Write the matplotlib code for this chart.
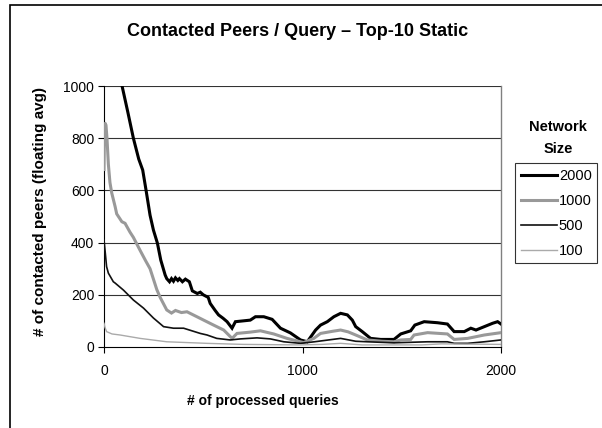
"""Contacted peers per query (floating average) vs processed queries, Top-10 static."""

import matplotlib

matplotlib.use("Agg")
import matplotlib.pyplot as plt
from matplotlib.lines import Line2D

plt.rcParams["font.family"] = ["Liberation Sans", "DejaVu Sans"]

# --- data ------------------------------------------------------------------
x_2000 = [70, 91, 120, 148, 175, 195, 212, 232, 249, 269, 286, 308, 316, 330, 340,
          350, 360, 372, 380, 395, 410, 430, 445, 470, 485, 500, 525, 535, 560, 577,
          600, 620, 645, 662, 700, 737, 763, 805, 847, 889, 939, 990, 1024, 1066,
          1091, 1125, 1158, 1192, 1226, 1251, 1268, 1301, 1343, 1394, 1461, 1495,
          1545, 1566, 1613, 1680, 1730, 1764, 1815, 1848, 1874, 1916, 1958, 1983, 2000]
y_2000 = [1060, 1000, 900, 800, 720, 678, 600, 505, 448, 398, 333, 276, 262, 250, 262,
          252, 265, 255, 262, 250, 260, 250, 215, 205, 210, 200, 190, 167, 140, 123,
          110, 97, 72, 97, 100, 103, 116, 116, 106, 72, 54, 27, 20, 65,
          84, 97, 116, 129, 123, 103, 78, 59, 33, 29, 29, 50,
          62, 84, 97, 93, 88, 59, 59, 72, 65, 78, 91, 97, 88]

x_1000 = [0, 3, 10, 15, 22, 30, 39, 56, 64, 90, 106, 131, 148, 182, 210, 232, 266,
          283, 316, 340, 360, 390, 418, 468, 502, 552, 603, 636, 645, 670, 737, 788,
          855, 922, 990, 1006, 1057, 1091, 1150, 1192, 1230, 1268, 1327, 1400, 1461,
          1495, 1545, 1562, 1630, 1730, 1764, 1832, 1916, 2000]
y_1000 = [680, 860, 850, 800, 700, 630, 590, 538, 510, 480, 474, 440, 420, 370, 330,
          300, 220, 190, 142, 130, 140, 132, 135, 116, 103, 84, 65, 40, 33, 52, 57, 62,
          50, 33, 20, 17, 33, 52, 60, 65, 58, 46, 27, 22, 20,
          27, 29, 46, 55, 50, 29, 33, 46, 55]

x_500 = [0, 5, 13, 22, 47, 56, 98, 148, 199, 249, 300, 350, 401, 485, 519, 568,
         636, 687, 771, 838, 906, 990, 1060, 1192, 1268, 1327, 1461, 1545, 1630,
         1730, 1764, 1832, 1916, 2000]
y_500 = [410, 372, 308, 283, 250, 245, 218, 180, 149, 111, 78, 72, 72, 52, 46, 33,
         27, 31, 35, 31, 20, 14, 20, 33, 22, 20, 16, 18, 20,
         20, 14, 14, 20, 27]

x_100 = [0, 5, 13, 40, 81, 182, 316, 519, 700, 990, 1100, 1192, 1300, 1600, 1700, 2000]
y_100 = [91, 75, 59, 50, 46, 33, 20, 14, 10, 8, 10, 14, 8, 8, 12, 10]

series = [
    ("2000", x_2000, y_2000, "#000000", 2.2),
    ("1000", x_1000, y_1000, "#999999", 2.2),
    ("500", x_500, y_500, "#111111", 1.2),
    ("100", x_100, y_100, "#aaaaaa", 1.0),
]

x_ticks = [0, 1000, 2000]
y_ticks = [0, 200, 400, 600, 800, 1000]

W, H = 602, 428


def main() -> int:
    fig = plt.figure(figsize=(W / 100, H / 100), dpi=100)
    ax = fig.add_axes([104 / W, (H - 347) / H, (501 - 104) / W, (347 - 86) / H])

    for name, xs, ys, color, lw in series:
        ax.plot(xs, ys, color=color, lw=lw, solid_joinstyle="miter", label=name, zorder=3)

    ax.set_xlim(0, 2000)
    ax.set_ylim(0, 1000)
    ax.set_xticks(x_ticks)
    ax.set_yticks(y_ticks)
    ax.tick_params(direction="out", length=4, width=0.8, labelsize=10, pad=8, colors="black")
    ax.tick_params(axis="y", pad=3)
    for y in y_ticks[1:]:
        ax.axhline(y, color="#333333", lw=0.8, zorder=1)
    ax.spines["left"].set_color("black")
    ax.spines["bottom"].set_color("black")
    ax.spines["top"].set_visible(False)
    ax.spines["right"].set_color("#808080")
    ax.spines["right"].set_linewidth(1.0)

    # titles placed like the original chart
    fig.text(298 / W, 1 - 31 / H, "Contacted Peers / Query \u2013 Top-10 Static",
             ha="center", va="center", fontsize=13, fontweight="bold")
    fig.text(263 / W, 1 - 401 / H, "# of processed queries",
             ha="center", va="center", fontsize=10, fontweight="bold")
    fig.text(40 / W, 1 - 212 / H, "# of contacted peers (floating avg)",
             ha="center", va="center", rotation=90, fontsize=11, fontweight="bold")

    # legend with its own title above the box
    fig.text(558 / W, 1 - 127 / H, "Network", ha="center", va="center",
             fontsize=10.5, fontweight="bold")
    fig.text(558 / W, 1 - 149 / H, "Size", ha="center", va="center",
             fontsize=10.5, fontweight="bold")
    handles = [Line2D([], [], color=c, lw=lw) for _, _, _, c, lw in series]
    leg = fig.legend(handles, [s[0] for s in series], loc="upper left",
                     bbox_to_anchor=(515 / W, 1 - 163 / H), fontsize=10.5,
                     frameon=True, fancybox=False, handlelength=2.5,
                     handletextpad=0.1, borderpad=0.4, labelspacing=0.75,
                     borderaxespad=0)
    leg.get_frame().set_edgecolor("black")
    leg.get_frame().set_linewidth(0.8)

    # outer chart frame (only left and top edges fall inside the image)
    fig.add_artist(plt.Rectangle((10 / W, -0.1), 1.2, 1.1 - 5 / H,
                                 transform=fig.transFigure, fill=False,
                                 edgecolor="black", lw=1.2))

    fig.savefig("out.png", dpi=100)
    plt.close(fig)
    return 0


if __name__ == "__main__":
    raise SystemExit(main())
